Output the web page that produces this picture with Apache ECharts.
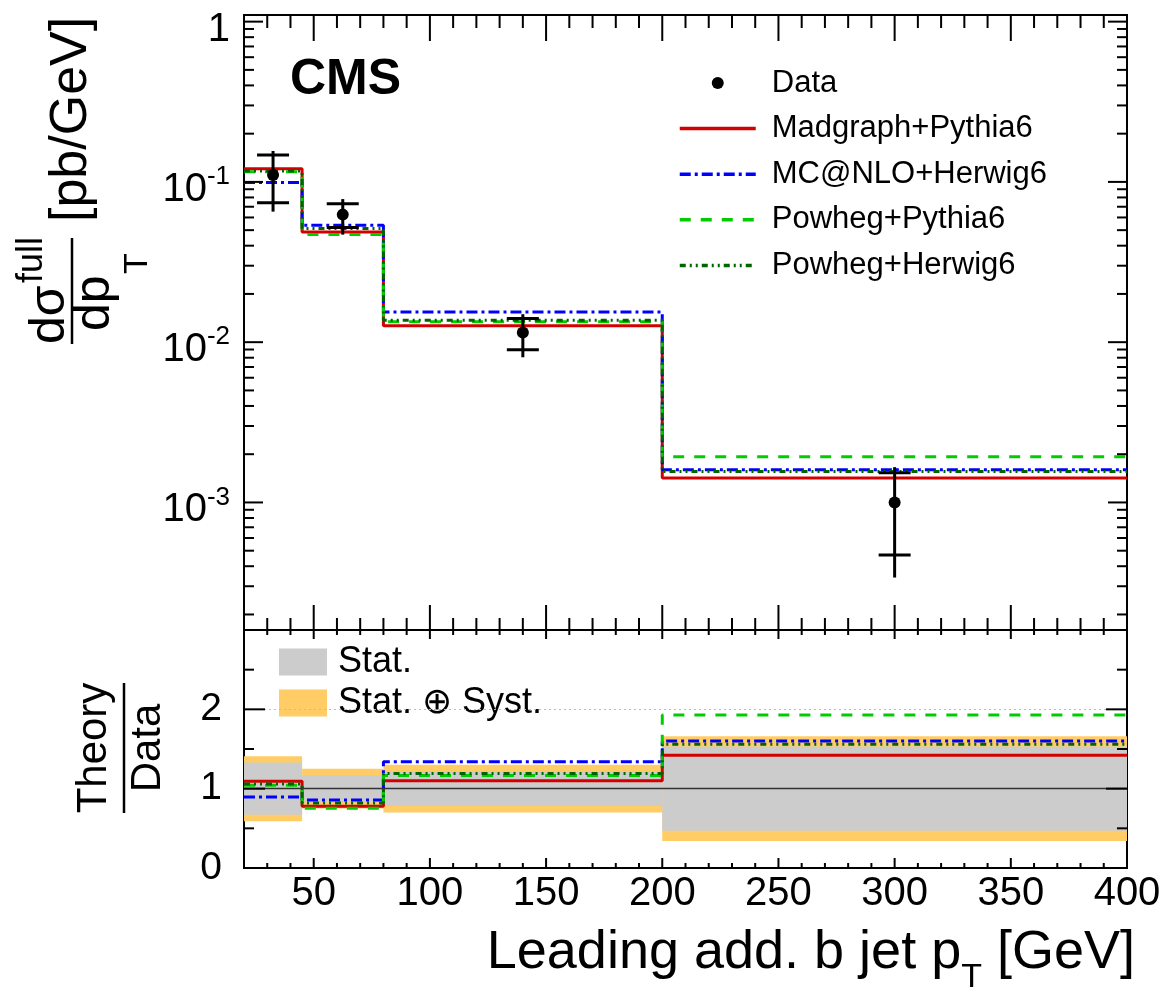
<!DOCTYPE html>
<html><head><meta charset="utf-8">
<script src="https://cdn.jsdelivr.net/npm/echarts@6/dist/echarts.min.js"></script>
<style>html,body{margin:0;padding:0;background:#fff}#c{width:1171px;height:998px}</style>
</head><body><div id="c"></div>
<script>
// ---------------- data ----------------
const binEdges = [20, 45, 80, 200, 400];
const binCenters = [32.5, 62.5, 140, 300];
const dataValues = [0.1106, 0.0625, 0.0115, 0.00100];
const statRelErr = [0.33, 0.17, 0.22, 0.53];
const totalRelErr = [0.41, 0.25, 0.30, 0.66];
const madgraphPythia6 = [0.121, 0.0487, 0.01266, 0.00142];
const mcatnloHerwig6 = [0.099, 0.0536, 0.0154, 0.00160];
const powhegPythia6 = [0.1155, 0.0470, 0.0134, 0.00193];
const powhegHerwig6 = [0.117, 0.0512, 0.0137, 0.00156];
const xMajorTicks = [50, 100, 150, 200, 250, 300, 350];
const yTopRange = [1.6e-4, 1.1];
const ratioRange = [0, 3];
const ratioMajorTicks = [1, 2];
const ratioMinorTicks = [0.5, 1.5, 2.5];

const F = "'Liberation Sans', Arial, Helvetica, sans-serif";

// ---------------- helpers ----------------
function stepData(vals) {
  const out = [];
  vals.forEach((v, i) => { out.push([binEdges[i], v]); out.push([binEdges[i + 1], v]); });
  return out;
}
function ratioVals(vals) { return vals.map((v, i) => v / dataValues[i]); }

const models = [
  { name: 'Madgraph+Pythia6', vals: madgraphPythia6, color: '#d40000', type: 'solid', width: 3 },
  { name: 'MC@NLO+Herwig6', vals: mcatnloHerwig6, color: '#0000ff', type: [11, 4, 3, 4], width: 3 },
  { name: 'Powheg+Pythia6', vals: powhegPythia6, color: '#00cc00', type: [11, 10], width: 3 },
  { name: 'Powheg+Herwig6', vals: powhegHerwig6, color: '#006400', type: [6, 4, 2, 4, 2, 4], width: 3 }
];

// tick lists (axis decoration)
const xMinorTicks = [];
for (let v = 30; v < 400; v += 10) if (v % 50 !== 0) xMinorTicks.push(v);
const yTopMajor = [], yTopMinor = [];
for (let d = -4; d <= 0; d++) {
  const base = Math.pow(10, d);
  if (base >= yTopRange[0] && base <= yTopRange[1]) yTopMajor.push(base);
  for (let k = 2; k <= 9; k++) { const v = k * base; if (v > yTopRange[0] && v < yTopRange[1]) yTopMinor.push(v); }
}

function tickData(xMaj, xMin, yMaj, yMin, xRef, yRef) {
  const d = [];
  xMaj.forEach(v => d.push([v, yRef, 0, 1]));
  xMin.forEach(v => d.push([v, yRef, 0, 0]));
  yMaj.forEach(v => d.push([xRef, v, 1, 1]));
  yMin.forEach(v => d.push([xRef, v, 1, 0]));
  return d;
}
function tickRenderer(L) {
  return function (params, api) {
    const cs = params.coordSys;
    const p = api.coord([api.value(0), api.value(1)]);
    const isY = api.value(2) === 1, major = api.value(3) === 1;
    const st = { stroke: '#000', lineWidth: 2 };
    if (!isY) {
      const lb = major ? L.xMajB : L.xMinB, lt = major ? L.xMajT : L.xMinT;
      const b = cs.y + cs.height, t = cs.y;
      return { type: 'group', children: [
        { type: 'line', shape: { x1: p[0], y1: b, x2: p[0], y2: b - lb }, style: st },
        { type: 'line', shape: { x1: p[0], y1: t, x2: p[0], y2: t + lt }, style: st }
      ] };
    } else {
      const l = major ? L.yMaj : L.yMin;
      const x0 = cs.x, x1 = cs.x + cs.width;
      return { type: 'group', children: [
        { type: 'line', shape: { x1: x0, y1: p[1], x2: x0 + l, y2: p[1] }, style: st },
        { type: 'line', shape: { x1: x1, y1: p[1], x2: x1 - l, y2: p[1] }, style: st }
      ] };
    }
  };
}

// ---------------- series ----------------
const series = [];
models.forEach(m => {
  series.push({
    name: m.name, type: 'line', xAxisIndex: 0, yAxisIndex: 0, data: stepData(m.vals),
    symbol: 'none', showSymbol: false, clip: true, z: 3,
    itemStyle: { color: m.color },
    lineStyle: { color: m.color, width: m.width, type: m.type, cap: 'butt' }
  });
});
series.push({
  name: 'Data', type: 'custom', xAxisIndex: 0, yAxisIndex: 0, z: 5,
  itemStyle: { color: '#000' },
  encode: { x: 0, y: 1 },
  data: binCenters.map((x, i) => [x, dataValues[i],
    dataValues[i] * (1 - statRelErr[i]), dataValues[i] * (1 + statRelErr[i]),
    dataValues[i] * (1 - totalRelErr[i]), dataValues[i] * (1 + totalRelErr[i])]),
  renderItem: function (params, api) {
    const x = api.value(0);
    const c = api.coord([x, api.value(1)]);
    const sLo = api.coord([x, api.value(2)]), sHi = api.coord([x, api.value(3)]);
    const tLo = api.coord([x, api.value(4)]), tHi = api.coord([x, api.value(5)]);
    const st = { stroke: '#000', lineWidth: 3 };
    return { type: 'group', children: [
      { type: 'line', shape: { x1: c[0], y1: tHi[1], x2: c[0], y2: tLo[1] }, style: st },
      { type: 'line', shape: { x1: c[0] - 16, y1: sHi[1], x2: c[0] + 16, y2: sHi[1] }, style: st },
      { type: 'line', shape: { x1: c[0] - 16, y1: sLo[1], x2: c[0] + 16, y2: sLo[1] }, style: st },
      { type: 'circle', shape: { cx: c[0], cy: c[1], r: 6 }, style: { fill: '#000' } }
    ] };
  }
});

// ratio panel bands
function bandSeries(name, rel, color) {
  return {
    name: name, type: 'custom', xAxisIndex: 1, yAxisIndex: 1, z: 2,
    itemStyle: { color: color },
    encode: { x: [0, 1], y: [2, 3] },
    data: rel.map((r, i) => [binEdges[i], binEdges[i + 1], 1 - r, 1 + r]),
    renderItem: function (params, api) {
      const a = api.coord([api.value(0), api.value(3)]);
      const b = api.coord([api.value(1), api.value(2)]);
      return { type: 'rect', shape: { x: a[0], y: a[1], width: b[0] - a[0], height: b[1] - a[1] }, style: { fill: color } };
    }
  };
}
series.push(bandSeries('Stat. ⊕ Syst.', totalRelErr, '#ffcc66'));
const statBand = bandSeries('Stat.', statRelErr, '#cccccc');
statBand.markLine = {
  silent: true, symbol: 'none', label: { show: false }, animation: false,
  data: [
    { yAxis: 1, lineStyle: { color: '#333', width: 1.3, type: 'solid' } },
    { yAxis: 2, lineStyle: { color: '#bbbbbb', width: 1, type: [2, 3] } }
  ]
};
series.push(statBand);
models.forEach(m => {
  series.push({
    name: m.name, type: 'line', xAxisIndex: 1, yAxisIndex: 1, data: stepData(ratioVals(m.vals)),
    symbol: 'none', showSymbol: false, clip: true, z: 3,
    itemStyle: { color: m.color },
    lineStyle: { color: m.color, width: m.width, type: m.type, cap: 'butt' }
  });
});

// ticks
series.push({
  type: 'custom', xAxisIndex: 0, yAxisIndex: 0, z: 10, silent: true,
  encode: { x: 0, y: 1 },
  data: tickData(xMajorTicks, xMinorTicks, yTopMajor, yTopMinor, 100, 0.01),
  renderItem: tickRenderer({ xMajB: 25, xMinB: 12, xMajT: 26, xMinT: 13, yMaj: 19, yMin: 10 })
});
series.push({
  type: 'custom', xAxisIndex: 1, yAxisIndex: 1, z: 10, silent: true,
  encode: { x: 0, y: 1 },
  data: tickData(xMajorTicks, xMinorTicks, ratioMajorTicks, ratioMinorTicks, 100, 1),
  renderItem: tickRenderer({ xMajB: 10, xMinB: 5, xMajT: 9, xMinT: 5, yMaj: 21, yMin: 10 })
});

// ---------------- option ----------------
const labelFont = 40;
const option = {
  animation: false,
  backgroundColor: '#fff',
  grid: [
    { left: 244, top: 15, width: 883, height: 615, show: true, borderColor: '#000', borderWidth: 2, backgroundColor: 'transparent' },
    { left: 244, top: 630, width: 883, height: 238, show: true, borderColor: '#000', borderWidth: 2, backgroundColor: 'transparent' }
  ],
  xAxis: [
    { gridIndex: 0, type: 'value', min: binEdges[0], max: binEdges[binEdges.length - 1], splitNumber: 8,
      axisLine: { show: false }, axisTick: { show: false }, axisLabel: { show: false }, splitLine: { show: false } },
    { gridIndex: 1, type: 'value', min: binEdges[0], max: binEdges[binEdges.length - 1], splitNumber: 8,
      axisLine: { show: false }, axisTick: { show: false }, splitLine: { show: false },
      axisLabel: { show: true, margin: 6, color: '#000', fontFamily: F, fontSize: labelFont,
        formatter: v => (v % 50 === 0 && v >= 50) ? String(v) : '' } }
  ],
  yAxis: [
    { gridIndex: 0, type: 'log', logBase: 10, min: yTopRange[0], max: yTopRange[1],
      axisLine: { show: false }, axisTick: { show: false }, splitLine: { show: false },
      axisLabel: { show: true, margin: 14, color: '#000', fontFamily: F,
        formatter: function (v) {
          const e = Math.log10(v); const r = Math.round(e);
          if (Math.abs(e - r) > 1e-6) return '';
          if (r === 0) return '{b|1}';
          return '{b|10}{s|' + r + '}';
        },
        rich: {
          b: { fontSize: labelFont, fontFamily: F, color: '#000', padding: [16, 0, 0, 0] },
          s: { fontSize: 26, fontFamily: F, color: '#000', padding: [0, 0, 10, 0] }
        } } },
    { gridIndex: 1, type: 'value', min: ratioRange[0], max: ratioRange[1], splitNumber: 3,
      axisLine: { show: false }, axisTick: { show: false }, splitLine: { show: false },
      axisLabel: { show: true, margin: 22, color: '#000', fontFamily: F, fontSize: 39,
        formatter: v => (v === 0 || v === 1 || v === 2) ? String(v) : '' } }
  ],
  legend: [
    { show: true, orient: 'vertical', left: 678, top: 67, padding: 0, itemWidth: 76, itemHeight: 12, itemGap: 13.6,
      selectedMode: false,
      itemStyle: { opacity: 0 },
      lineStyle: { width: 3.5 },
      textStyle: { fontFamily: F, fontSize: 31, color: '#000', lineHeight: 32, padding: [0, 0, 0, 11] },
      data: [
        { name: 'Data', icon: 'circle', itemStyle: { color: '#000', opacity: 1 } },
        'Madgraph+Pythia6', 'MC@NLO+Herwig6', 'Powheg+Pythia6', 'Powheg+Herwig6'
      ] },
    { show: true, orient: 'vertical', left: 246, top: 644, padding: [0, 10, 2, 33], itemWidth: 48, itemHeight: 27, itemGap: 5,
      backgroundColor: '#fff', selectedMode: false,
      textStyle: { fontFamily: F, fontSize: 36, color: '#000', lineHeight: 36, padding: [0, 0, 0, 6] },
      data: [ { name: 'Stat.', icon: 'rect' }, { name: 'Stat. ⊕ Syst.', icon: 'rect' } ] }
  ],
  graphic: [
    { type: 'text', left: 290, top: 55, style: { text: 'CMS', fontFamily: F, fontSize: 50, fontWeight: 'bold', fill: '#000' } },
    { type: 'text', right: 36, top: 926, style: {
        text: 'Leading add. b jet p{sub|T} [GeV]', fontFamily: F, fontSize: 54, fill: '#000',
        rich: { sub: { fontFamily: F, fontSize: 34, fill: '#000', padding: [50, 0, 0, 0] } } } },
    { type: 'group', x: 72, y: 291, rotation: Math.PI / 2, children: [
      { type: 'line', shape: { x1: -53, y1: 0, x2: 53, y2: 0 }, style: { stroke: '#000', lineWidth: 2.5 } },
      { type: 'text', x: -53, y: -22, style: { text: 'dσ', fontFamily: F, fontSize: 50, fill: '#000', align: 'left', verticalAlign: 'middle' } },
      { type: 'text', x: 8, y: -40, style: { text: 'full', fontFamily: F, fontSize: 36, fill: '#000', align: 'left', verticalAlign: 'middle' } },
      { type: 'text', x: -40, y: 23, style: { text: 'dp', fontFamily: F, fontSize: 50, fill: '#000', align: 'left', verticalAlign: 'middle' } },
      { type: 'text', x: 17, y: 66, style: { text: 'T', fontFamily: F, fontSize: 34, fill: '#000', align: 'left', verticalAlign: 'middle' } },
      { type: 'text', x: 69, y: 0, style: { text: '[pb/GeV]', fontFamily: F, fontSize: 52, fill: '#000', align: 'left', verticalAlign: 'middle' } }
    ] },
    { type: 'group', x: 124, y: 748, rotation: Math.PI / 2, children: [
      { type: 'line', shape: { x1: -65, y1: 0, x2: 65, y2: 0 }, style: { stroke: '#000', lineWidth: 2.5 } },
      { type: 'text', x: 0, y: -30, style: { text: 'Theory', fontFamily: F, fontSize: 42, fill: '#000', align: 'center', verticalAlign: 'middle' } },
      { type: 'text', x: 0, y: 24, style: { text: 'Data', fontFamily: F, fontSize: 42, fill: '#000', align: 'center', verticalAlign: 'middle' } }
    ] }
  ],
  series: series
};
const chart = echarts.init(document.getElementById('c'), null, { renderer: 'canvas' });
chart.setOption(option);
</script>
</body></html>
